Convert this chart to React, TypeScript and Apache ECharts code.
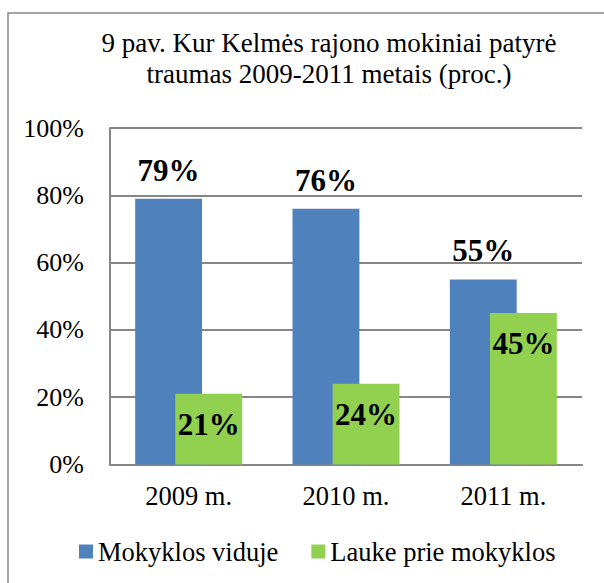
import React, { useEffect, useRef } from "react";
import * as echarts from "echarts";

const categories = ["2009 m.", "2010 m.", "2011 m."];
const insideValues = [79, 76, 55];
const outsideValues = [21, 24, 45];
const yTicks = [0, 20, 40, 60, 80, 100];
const seriesNames = ["Mokyklos viduje", "Lauke prie mokyklos"];
const titleText = "9 pav. Kur Kelmės rajono mokiniai patyrė\ntraumas 2009-2011 metais (proc.)";

const FONT = "Liberation Serif";

export default function App() {
  const ref = useRef<HTMLDivElement>(null);
  useEffect(() => {
    document.body.style.margin = "0";
    const chart = echarts.init(ref.current!, null, { renderer: "svg" });
    chart.setOption({
      animation: false,
      backgroundColor: "#ffffff",
      textStyle: { fontFamily: FONT },
      graphic: [
        {
          type: "rect",
          shape: { x: 8, y: 13, width: 700, height: 700 },
          style: { fill: "none", stroke: "#878787", lineWidth: 1.5 },
          silent: true,
        },
        {
          type: "text",
          x: 329,
          y: 27,
          style: {
            text: titleText,
            fontFamily: FONT,
            fontSize: 27,
            fill: "#000",
            textAlign: "center",
            textVerticalAlign: "top",
            lineHeight: 31,
          },
        },
      ],
      legend: {
        left: 74,
        top: 533,
        itemWidth: 14,
        itemHeight: 14,
        itemGap: 33,
        icon: "rect",
        textStyle: { fontFamily: FONT, fontSize: 26.5, color: "#000" },
        data: seriesNames,
      },
      grid: { left: 110, top: 128, right: 22, bottom: 118.5, containLabel: false },
      xAxis: {
        type: "category",
        data: categories,
        axisLine: { lineStyle: { color: "#868686", width: 2 } },
        axisTick: { show: false },
        axisLabel: { fontFamily: FONT, fontSize: 26.5, color: "#000", margin: 18 },
      },
      yAxis: {
        type: "value",
        min: yTicks[0],
        max: yTicks[yTicks.length - 1],
        interval: 20,
        axisLine: { show: true, lineStyle: { color: "#868686", width: 2 } },
        axisTick: { show: false },
        splitLine: { lineStyle: { color: "#868686", width: 2 } },
        axisLabel: {
          fontFamily: FONT,
          fontSize: 26,
          color: "#000",
          margin: 26,
          formatter: (v: number) => `${v}%`,
        },
      },
      series: [
        {
          name: seriesNames[0],
          type: "bar",
          data: insideValues,
          itemStyle: { color: "#4F81BD" },
          barGap: "-40%",
          barCategoryGap: "32%",
          label: {
            show: true,
            position: "top",
            distance: 13,
            formatter: "{c}%",
            fontFamily: FONT,
            fontSize: 31,
            fontWeight: "bold",
            color: "#000",
          },
        },
        {
          name: seriesNames[1],
          type: "bar",
          data: outsideValues,
          itemStyle: { color: "#92D050" },
          barGap: "-40%",
          barCategoryGap: "32%",
          label: {
            show: true,
            position: "insideTop",
            distance: 15,
            formatter: "{c}%",
            fontFamily: FONT,
            fontSize: 31,
            fontWeight: "bold",
            color: "#000",
          },
        },
      ],
    });
    return () => chart.dispose();
  }, []);
  return <div ref={ref} style={{ width: 604, height: 583 }} />;
}
